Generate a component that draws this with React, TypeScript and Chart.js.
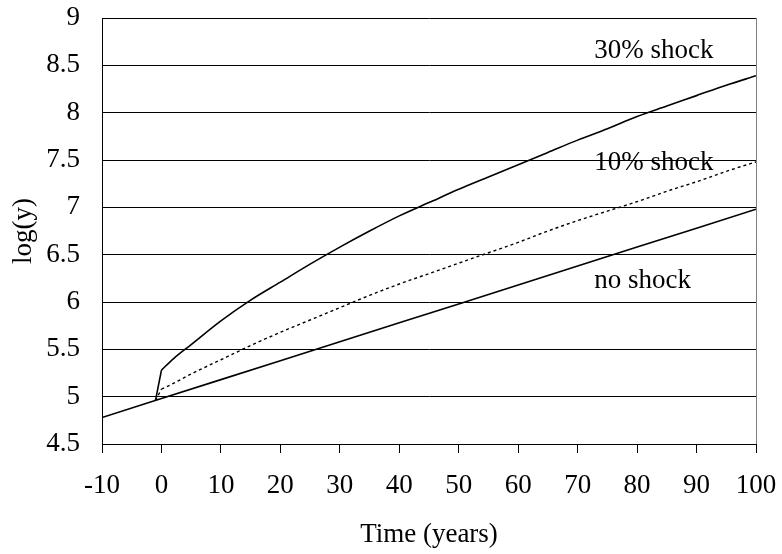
import React, { useEffect, useRef } from "react";
import { Chart, registerables } from "chart.js";

Chart.register(...registerables);

// ---- data ----
const noShockYears = [-10, 0, 10, 20, 30, 40, 50, 60, 70, 80, 90, 100];
const noShockValues = [4.78, 4.98, 5.18, 5.38, 5.58, 5.78, 5.98, 6.18, 6.38, 6.58, 6.78, 6.98];

// the shock hits just before year 0: a straight jump, then a smooth path
const jumpYears = [-1, 0];
const jump30Values = [4.96, 5.28];
const jump10Values = [4.96, 5.08];

const shockYears = [0, 2, 5, 10, 15, 20, 25, 30, 35, 40, 45, 50, 55, 60, 65, 70, 75, 80, 85, 90, 95, 100];
const shock30Values = [5.28, 5.4, 5.55, 5.8, 6.02, 6.21, 6.4, 6.58, 6.75, 6.91, 7.05, 7.19, 7.32, 7.45, 7.58, 7.71, 7.83, 7.96, 8.07, 8.18, 8.29, 8.39];
const shock10Values = [5.08, 5.14, 5.24, 5.39, 5.54, 5.68, 5.81, 5.94, 6.07, 6.19, 6.3, 6.41, 6.52, 6.63, 6.75, 6.86, 6.96, 7.06, 7.17, 7.27, 7.38, 7.48];

const xTickValues = [-10, 0, 10, 20, 30, 40, 50, 60, 70, 80, 90, 100];
const yTickValues = [4.5, 5, 5.5, 6, 6.5, 7, 7.5, 8, 8.5, 9];

const xTitle = "Time (years)";
const yTitle = "log(y)";

const labelTexts = ["30% shock", "10% shock", "no shock"];
const labelYears = [72.8, 72.8, 72.8];
const labelValues = [8.58, 7.39, 6.15];

const FONT = "'Liberation Serif', 'Times New Roman', serif";

const toPoints = (xs: number[], ys: number[]) => xs.map((x, i) => ({ x, y: ys[i] }));

const labelsPlugin = {
  id: "shockLabels",
  afterDatasetsDraw(chart: any) {
    const { ctx, scales, chartArea } = chart;
    ctx.save();
    ctx.strokeStyle = "#808080";
    ctx.lineWidth = 1;
    ctx.beginPath();
    const rx = Math.round(chartArea.right) + 0.5;
    ctx.moveTo(rx, chartArea.top);
    ctx.lineTo(rx, chartArea.bottom);
    ctx.stroke();
    ctx.fillStyle = "#000";
    ctx.font = `27px ${FONT}`;
    ctx.textAlign = "left";
    ctx.textBaseline = "alphabetic";
    labelTexts.forEach((t, i) => {
      ctx.fillText(t, scales.x.getPixelForValue(labelYears[i]), scales.y.getPixelForValue(labelValues[i]));
    });
    ctx.restore();
  },
};

const lineBase = {
  borderColor: "#000",
  pointRadius: 0,
  fill: false,
};

export default function App() {
  const canvasRef = useRef<HTMLCanvasElement | null>(null);

  useEffect(() => {
    const canvas = canvasRef.current;
    if (!canvas) return;
    const chart = new Chart(canvas, {
      type: "line",
      data: {
        datasets: [
          { ...lineBase, label: "no shock", data: toPoints(noShockYears, noShockValues), borderWidth: 1.6, tension: 0 },
          { ...lineBase, label: "10% jump", data: toPoints(jumpYears, jump10Values), borderWidth: 1.4, borderDash: [3, 3], tension: 0 },
          {
            ...lineBase,
            label: "10% shock",
            data: toPoints(shockYears, shock10Values),
            borderWidth: 1.4,
            borderDash: [3, 3],
            cubicInterpolationMode: "monotone",
          },
          { ...lineBase, label: "30% jump", data: toPoints(jumpYears, jump30Values), borderWidth: 1.6, tension: 0 },
          {
            ...lineBase,
            label: "30% shock",
            data: toPoints(shockYears, shock30Values),
            borderWidth: 1.6,
            cubicInterpolationMode: "monotone",
          },
        ],
      },
      options: {
        animation: false,
        responsive: true,
        maintainAspectRatio: false,
        layout: { padding: { top: 18, right: 26, left: 0, bottom: 0 } },
        plugins: {
          legend: { display: false },
          tooltip: { enabled: false },
        },
        scales: {
          x: {
            type: "linear",
            min: -10,
            max: 100,
            afterBuildTicks: (scale: any) => {
              scale.ticks = xTickValues.map((v) => ({ value: v }));
            },
            afterFit: (scale: any) => {
              scale.height = 110;
              scale.paddingLeft = 0;
              scale.paddingRight = 0;
            },
            grid: {
              drawOnChartArea: false,
              drawTicks: true,
              tickLength: 9,
              color: "#000",
            },
            border: { color: "#000", width: 1 },
            ticks: {
              color: "#000",
              font: { family: FONT, size: 27 },
              padding: 17,
              maxRotation: 0,
              autoSkip: false,
              callback: (v: any) => String(v),
            },
            title: {
              display: true,
              text: xTitle,
              color: "#000",
              font: { family: FONT, size: 27 },
              padding: { top: 0, bottom: 3 },
            },
          },
          y: {
            type: "linear",
            min: 4.5,
            max: 9,
            afterBuildTicks: (scale: any) => {
              scale.ticks = yTickValues.map((v) => ({ value: v }));
            },
            afterFit: (scale: any) => {
              scale.width = 102;
              scale.paddingTop = 0;
              scale.paddingBottom = 0;
            },
            grid: {
              drawTicks: false,
              color: "#000",
            },
            border: { color: "#000", width: 1 },
            ticks: {
              color: "#000",
              font: { family: FONT, size: 27 },
              padding: 22,
              autoSkip: false,
              callback: (v: any) => String(v),
            },
            title: {
              display: true,
              text: yTitle,
              color: "#000",
              font: { family: FONT, size: 27 },
              padding: { top: 8, bottom: 0 },
            },
          },
        },
      },
      plugins: [labelsPlugin],
    });
    return () => chart.destroy();
  }, []);

  return (
    <div style={{ position: "fixed", left: 0, top: 0, width: 782, height: 554, background: "#fff" }}>
      <canvas ref={canvasRef} />
    </div>
  );
}
